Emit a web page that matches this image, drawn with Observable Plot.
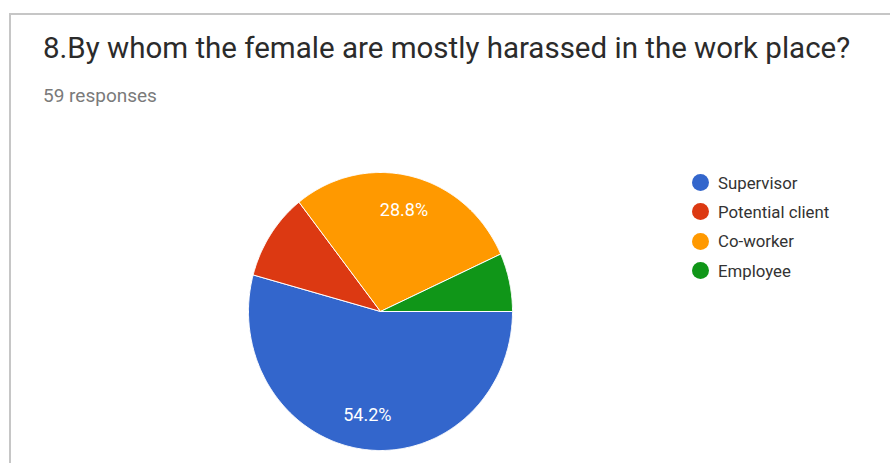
<!DOCTYPE html>
<html>
<head>
<meta charset="utf-8">
<script src="https://cdn.jsdelivr.net/npm/d3@7"></script>
<script src="https://cdn.jsdelivr.net/npm/@observablehq/plot@0.6"></script>
<style>
  html, body { margin: 0; padding: 0; background: #fff; }
  #wrap { position: relative; width: 890px; height: 463px; overflow: hidden; background: #fff; font-family: Roboto, "Noto Sans", Arial, sans-serif; }
  #card { position: absolute; left: 9px; top: 13px; width: 900px; height: 470px; border-left: 2px solid #c6c6c6; border-top: 2px solid #c6c6c6; }
  #title { position: absolute; left: 43px; top: 29px; font-size: 29.5px; line-height: 38px; color: #2b2b2b; white-space: nowrap; }
  #subtitle { position: absolute; left: 43px; top: 84px; font-size: 19px; line-height: 24px; color: #7a7a7a; white-space: nowrap; }
  #chart { position: absolute; left: 0; top: 160px; }
  #legend { position: absolute; left: 692px; top: 168px; font-size: 16.8px; color: #333; }
  .item { display: flex; align-items: center; height: 29.3px; }
  .sw { width: 17px; height: 17px; border-radius: 50%; margin-right: 9px; }
</style>
</head>
<body>
<div id="wrap">
  <div id="card"></div>
  <div id="title"></div>
  <div id="subtitle"></div>
  <div id="chart"></div>
  <div id="legend"></div>
</div>
<script>
const titleText = "8.By whom the female are mostly harassed in the work place?";
const subtitleText = "59 responses";
const categories = ["Supervisor", "Potential client", "Co-worker", "Employee"];
const counts = [32, 6, 17, 4];
const colors = ["#3366cc", "#dc3912", "#ff9900", "#109618"];

document.getElementById("title").textContent = titleText;
document.getElementById("subtitle").textContent = subtitleText;

const total = d3.sum(counts);
const startDeg = 90; // first slice begins at 3 o'clock, clockwise
const rad = Math.PI / 180;

// slice geometry on the unit circle
const slices = [];
let acc = startDeg;
categories.forEach((name, i) => {
  const span = counts[i] / total * 360;
  slices.push({name, value: counts[i], a0: acc, a1: acc + span, share: counts[i] / total});
  acc += span;
});

const polyPoints = [];
for (const s of slices) {
  polyPoints.push({name: s.name, x: 0, y: 0});
  const n = Math.max(2, Math.ceil((s.a1 - s.a0) / 0.5));
  for (let k = 0; k <= n; k++) {
    const a = (s.a0 + (s.a1 - s.a0) * k / n) * rad;
    polyPoints.push({name: s.name, x: Math.sin(a), y: Math.cos(a)});
  }
  polyPoints.push({name: s.name, x: 0, y: 0});
}

const labels = slices.filter(s => s.share >= 0.2).map(s => {
  const m = (s.a0 + s.a1) / 2 * rad;
  return {x: 0.75 * Math.sin(m), y: 0.75 * Math.cos(m), text: (s.share * 100).toFixed(1) + "%"};
});

const plot = Plot.plot({
  width: 890,
  height: 300,
  marginLeft: 248,
  marginRight: 378,
  marginTop: 12,
  marginBottom: 10,
  x: {domain: [-1, 1], axis: null},
  y: {domain: [-1, 1], axis: null},
  color: {domain: categories, range: colors},
  style: {fontFamily: "Roboto, 'Noto Sans', Arial, sans-serif", background: "transparent"},
  marks: [
    Plot.line(polyPoints, {x: "x", y: "y", z: "name", fill: "name", stroke: "white", strokeWidth: 1, strokeLinejoin: "round"}),
    Plot.text(labels, {x: "x", y: "y", text: "text", fill: "white", fontSize: 18, lineAnchor: "middle", textAnchor: "middle"})
  ]
});
document.getElementById("chart").appendChild(plot);

const legend = document.getElementById("legend");
categories.forEach((c, i) => {
  const item = document.createElement("div");
  item.className = "item";
  const sw = document.createElement("span");
  sw.className = "sw";
  sw.style.background = colors[i];
  const t = document.createElement("span");
  t.textContent = c;
  item.appendChild(sw);
  item.appendChild(t);
  legend.appendChild(item);
});
</script>
</body>
</html>
